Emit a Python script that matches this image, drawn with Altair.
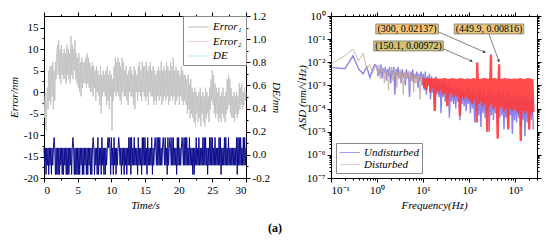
import numpy as np
import pandas as pd
import altair as alt

# ---------------- left panel data ----------------
error1 = [
    -1, -6, 0, -9, -3, 1, -4, 5, -2, 6,
    -3, 6, -1, 7, -4, 5, -2, 7, 3, 9,
    11, 4, 12, 3, 10, 2, 11, 4, 9, 3,
    10, 3, 9, 2, 11, 4, 10, 3, 9, 2,
    13, 4, 11, 3, 10, 5, 12, 3, 9, 2,
    8, 1, 9, 0, 7, -1, 8, 1, 7, 2,
    7, 2, 8, 1, 9, 2, 8, 1, 7, 0,
    6, 0, 7, -1, 6, 1, 5, -2, 6, 0,
    5, -1, 4, -3, 6, -5, 4, -1, 5, 0,
    4, -1, 5, -3, 6, -2, 4, -4, 5, -1,
    4, -9, 3, -2, 6, 0, 8, -1, 7, 0,
    8, -1, 7, -2, 6, -3, 8, 0, 7, -1,
    5, -1, 6, -2, 4, -3, 5, 0, 6, -1,
    5, -1, 4, -3, 6, -4, 5, 0, 4, -2,
    6, 0, 7, -1, 5, -2, 7, 0, 6, -1,
    6, -2, 7, -1, 5, -3, 6, 0, 7, -1,
    5, -1, 6, -3, 5, -2, 4, -3, 5, -1,
    6, -2, 5, -1, 7, -3, 5, -2, 6, -1,
    5, -2, 7, -1, 6, -3, 5, -2, 7, -1,
    6, -2, 8, -1, 5, -3, 6, -2, 5, -1,
    5, -3, 4, -1, 6, -2, 5, -3, 4, -2,
    4, -3, 3, -5, 4, -4, 2, -6, 3, -5,
    1, -6, 0, -7, 1, -8, 0, -5, -1, -7,
    0, -6, 1, -8, -1, -5, 0, -7, -1, -8,
    1, -6, 0, -5, -1, -7, 1, -4, 3, -2,
    5, -3, 4, -5, 2, -6, 1, -5, 0, -7,
    1, -6, -1, -7, 0, -5, 1, -6, -1, -7,
    0, -5, 3, -4, 4, -3, 3, -5, 1, -6,
    -1, -6, 0, -7, -1, -5, 0, -6, -1, -5,
    2, -4, 1, -3, 2, -4, 0, -3, 1, -2,
    0,
]

# DE (nm) on the same 0.1 s grid, one letter per sample
de_levels = {"h": 0.06, "l": -0.09, "U": 0.15, "D": -0.17}
de_code = (
    "hlhDhlhDhl" "hDhlhUhDhD" "hDhDhlhDhD" "hlhDhDhDhl" "hDhUhDhDhD"
    "hDhDhlhDhD" "hlhDhDhlhD" "hDhUhDhlhD" "UDhlhDUlhD" "hDhlhUhUhD"
    "UlhDUlhDhl" "hUhlhDhlhD" "hlhDhlUlUD" "UlhlUlhlhD" "UlhlhDUlUl"
    "UlhDUlhlhl" "UDhlhUhlUl" "UlUlhlhUhl" "UlhDUlhUhl" "UlUlhlhDUl"
    "UlhlhUhlUl" "UlUlhlUlhl" "hDhDhlUlhl" "UlhlhlUlUl" "UlhDhlUlUl"
    "UlhlUlhlhl" "UlUDhlhlUl" "UlhlUlhlhl" "hlhlhlUDUl" "UlUlhlUlUl"
    "h"
)

legend_left = ["Error\u2081", "Error\u2082", "DE"]

# ---------------- right panel data ----------------
low_freqs = [0.1, 0.2, 0.3, 0.4, 0.5, 0.6, 0.7, 0.8, 0.9]

# log10 ASD values (nm/sqrt(Hz))
und_low = [-2.22, -2.28, -1.72, -2.30, -2.50, -2.20, -2.66, -2.30, -2.10]
und_main = [
    -2.2, -2.6, -2.3, -2.5, -2.1, -2.7, -2.3, -2.4, -2.2, -2.8,
    -2.3, -2.6, -2.2, -2.9, -2.4, -2.5, -2.2, -3.4, -2.3, -2.6,
    -2.2, -2.7, -2.4, -2.9, -2.3, -2.6, -2.5, -3.0, -2.3, -2.7,
    -2.4, -3.5, -2.4, -2.8, -2.3, -2.9, -2.5, -2.7, -2.4, -3.1,
    -2.5, -2.8, -2.4, -3.0,
    -2.5, -3.2, -2.4, -3.4, -2.6, -3.0, -2.5, -3.6, -2.6, -3.3,
    -2.7, -3.9, -2.6, -3.4, -2.8, -3.5, -2.7, -4.2, -2.9, -3.5,
    -2.8, -3.7, -3.0, -3.6, -2.9, -4.4, -3.0, -3.7, -3.1, -3.8,
    -3.0, -4.0, -3.1, -3.7, -3.0, -4.5, -3.2, -3.8, -3.1, -3.9,
    -3.2, -4.1, -3.1, -3.8,
    -3.1, -4.2, -3.2, -4.0, -3.0, -4.6, -3.3, -4.1, -3.2, -4.3,
    -3.1, -4.8, -3.3, -4.2, -3.2, -4.4, -3.4, -4.1, -3.2, -5.0,
    -3.3, -4.3, -3.2, -4.5, -3.4, -4.2, -3.3, -4.7, -3.2, -4.4,
    -3.4, -4.3, -3.3, -4.9, -3.5, -4.4, -3.3, -4.6, -3.4, -4.3,
    -3.5, -5.1, -3.4, -4.5,
    -3.4, -4.6, -3.5, -4.4, -3.3, -4.8, -3.5, -4.5, -3.4, -5.2,
    -3.5, -4.6, -3.4, -4.7, -3.6, -4.5, -3.5, -4.9,
]
dist_low = [-2.08, -1.72, -1.44, -1.94, -1.60, -2.30, -2.10, -2.50, -2.20]
dist_main = [
    -2.3, -2.5, -2.1, -2.7, -2.2, -2.4, -2.3, -2.9, -2.2, -2.6,
    -2.4, -3.2, -2.3, -2.5, -2.2, -2.8, -2.4, -2.6, -2.3, -3.1,
    -2.4, -2.7, -2.3, -2.9, -2.5, -3.4, -2.4, -2.8, -2.5, -2.7,
    -2.4, -3.0, -2.5, -2.8, -2.6, -3.3, -2.5, -2.9, -2.6, -2.8,
    -2.5, -3.6, -2.6, -2.9,
    -2.7, -3.1, -2.72, -3.2, -2.68, -3.0, -2.7, -3.3, -2.72, -3.1,
    -2.7, -4.1, -2.68, -3.2, -2.7, -3.3, -2.72, -3.2, -2.7, -3.4,
    -2.68, -3.3, -2.7, -3.9, -2.72, -3.4, -2.7, -3.3, -2.68, -3.5,
    -2.7, -3.4, -2.72, -3.5, -2.7, -4.3, -2.68, -3.5, -2.7, -3.6,
    -2.72, -3.5, -2.7, -3.6,
    -2.7, -3.7, -2.72, -3.8, -2.68, -3.6, -2.7, -4.6, -2.7, -3.8,
    -2.72, -3.7, -2.7, -3.9, -2.68, -3.8, -2.7, -5.0, -2.7, -3.9,
    -2.72, -3.8, -2.7, -4.0, -2.68, -3.9, -2.7, -5.3, -2.7, -4.0,
    -2.72, -3.9, -2.7, -4.1, -2.68, -4.0, -2.7, -4.9, -2.7, -4.0,
    -2.72, -4.1, -2.7, -4.0,
    -2.7, -4.1, -2.72, -4.2, -2.68, -5.4, -2.7, -4.1, -2.72, -4.2,
    -2.7, -4.1, -2.68, -4.9, -2.7, -4.2, -2.72, -4.15,
]
peak_freqs = [300, 449.9, 150.1]
peak_vals = [0.02137, 0.00816, 0.00972]
peak_labels = ["(300, 0.02137)", "(449.9, 0.00816)", "(150.1, 0.00972)"]
legend_right = ["Undisturbed", "Disturbed"]

# annotation layout (data coordinates)
box_f1 = [0.94, 47.6, 0.85]
box_f2 = [21.5, 1549, 27.6]
box_v1 = [0.452, 0.452, 0.0836]
box_v2 = [0.1676, 0.1676, 0.031]
box_fill = ["#f2c57b", "#e9c67e", "#cfc37a"]
tail_f = [19.5, 271, 27.5]
tail_v = [0.2255, 0.1676, 0.038]
head_f = [212, 440, 111]
head_v = [0.0281, 0.0118, 0.0115]
head_angle = [114, 168, 114]

# ---------------- build tables ----------------
assert len(error1) == 301 and len(de_code) == 301
t = np.round(np.arange(301) * 0.1, 1)
err_df = pd.DataFrame({"t": t, "err": error1, "series": legend_left[0]})
de_df = pd.DataFrame({"t": t, "de": [de_levels[c] for c in de_code]})

assert len(und_main) == len(dist_main)
main_f = np.geomspace(1, 2500, len(und_main))
freqs = list(low_freqs) + list(main_f)
und_df = pd.DataFrame({"f": freqs, "v": 10 ** np.array(und_low + und_main), "series": "Undisturbed"})
dist_df = pd.concat([
    pd.DataFrame({"f": freqs, "v": 10 ** np.array(dist_low + dist_main)}),
    pd.DataFrame({"f": peak_freqs, "v": peak_vals}),
]).sort_values("f").reset_index(drop=True)
dist_df["series"] = "Disturbed"
spec_df = pd.concat([und_df, dist_df]).reset_index(drop=True)
spec_df["order"] = np.arange(len(spec_df))

ann_df = pd.DataFrame({
    "label": peak_labels, "f1": box_f1, "f2": box_f2, "v1": box_v1, "v2": box_v2,
    "fill": box_fill, "tf": tail_f, "tv": tail_v, "hf": head_f, "hv": head_v, "ang": head_angle,
})
ann_df["cf"] = np.sqrt(ann_df["f1"] * ann_df["f2"])
ann_df["cv"] = np.sqrt(ann_df["v1"] * ann_df["v2"])

# ---------------- styles ----------------
FONT = "Liberation Serif"
LEGEND_LINE = "M-1,0H2.4"
TS_LIN5 = {"condition": {"test": "abs(datum.value % 5) < 0.001", "value": 4}, "value": 2}
TS_DE = {"condition": {"test": "abs(datum.value*5 - round(datum.value*5)) < 0.001", "value": 4}, "value": 2}
TS_LOG = {"condition": {"test": "abs(log(datum.value)/LN10 - round(log(datum.value)/LN10)) < 0.001", "value": 4}, "value": 2}

x_vals = [round(v * 2.5, 1) for v in range(13)]
yl_vals = [round(-20 + 2.5 * i, 1) for i in range(15)]
de_vals = [round(-0.2 + 0.1 * i, 1) for i in range(15)]


def log_vals(lo, hi):
    out = []
    for e in range(lo, hi):
        for m in range(1, 10):
            out.append(float(f"{m}e{e}"))
    out.append(float(f"1e{hi}"))
    return out


fx_vals = log_vals(-1, 3) + [2000.0, 3000.0]
fy_vals = log_vals(-7, 0)

sup = {"-": "\u207b", "0": "\u2070", "1": "\u00b9", "2": "\u00b2", "3": "\u00b3",
       "4": "\u2074", "5": "\u2075", "6": "\u2076", "7": "\u2077"}


def decade_expr(exps):
    expr = "''"
    for e in exps:
        lab = "10" + "".join(sup[c] for c in str(e))
        expr = f"abs(log(datum.value)/LN10 - ({e})) < 0.001 ? '{lab}' : ({expr})"
    return expr


x_scale_l = alt.Scale(domain=[0, 30], nice=False, zero=False)
y_scale_l = alt.Scale(domain=[-20, 17.7], nice=False, zero=False)
de_scale = alt.Scale(domain=[-0.2, 1.2], nice=False, zero=False)
f_scale = alt.Scale(type="log", domain=[0.1, 3000], nice=False)
v_scale = alt.Scale(type="log", domain=[1e-7, 1], nice=False)

# ---------------- left panel ----------------
err_line = alt.Chart(err_df).mark_line(strokeWidth=1).encode(
    x=alt.X("t:Q", scale=x_scale_l, axis=alt.Axis(
        title="Time/s", values=x_vals, tickSize=TS_LIN5,
        labelExpr="abs(datum.value % 5) < 0.001 ? toString(datum.value) : ''")),
    y=alt.Y("err:Q", scale=y_scale_l, axis=alt.Axis(
        title="Error/nm", values=yl_vals, tickSize=TS_LIN5,
        minExtent=21, maxExtent=21, titlePadding=3.5,
        labelExpr="abs(datum.value % 5) < 0.001 ? toString(datum.value) : ''")),
    color=alt.Color("series:N", scale=alt.Scale(domain=legend_left,
                                                range=["#c4c4c4", "#f6d2dc", "#c6ecec"]),
                    legend=alt.Legend(title=None, orient="top-right", offset=0, padding=4,
                                      strokeColor="#8a8a8a", fillColor="white",
                                      symbolType=LEGEND_LINE, symbolSize=144, symbolStrokeWidth=1.2,
                                      labelFont=FONT, labelFontStyle="italic", labelFontSize=11,
                                      rowPadding=2.5, labelOffset=12)),
)

de_line = alt.Chart(de_df).mark_line(strokeWidth=1, color="#0c0c8e").encode(
    x=alt.X("t:Q", scale=x_scale_l, axis=alt.Axis(
        orient="top", title=None, labels=False, values=x_vals, tickSize=TS_LIN5)),
    y=alt.Y("de:Q", scale=de_scale, axis=alt.Axis(
        orient="right", title="DE/nm", values=de_vals, tickSize=TS_DE,
        minExtent=23, maxExtent=23, titlePadding=1.5,
        labelExpr="abs(datum.value*5 - round(datum.value*5)) < 0.001 ? replace(format(datum.value, '.1f'), '\u2212', '-') : ''")),
)

left = alt.layer(err_line, de_line).resolve_scale(y="independent").resolve_axis(
    x="independent", y="independent").properties(width=202, height=162)

# ---------------- right panel ----------------
und_line = alt.Chart(spec_df).transform_filter(alt.datum.series == "Undisturbed").mark_line(
    strokeWidth=1.4, opacity=0.7).encode(
    x=alt.X("f:Q", scale=f_scale, axis=alt.Axis(
        title="Frequency(Hz)", values=fx_vals, tickSize=TS_LOG,
        labelExpr=decade_expr([-1, 0, 1, 2, 3]))),
    y=alt.Y("v:Q", scale=v_scale, axis=alt.Axis(
        title="ASD (nm/\u221aHz)", values=fy_vals, tickSize=TS_LOG,
        minExtent=21, maxExtent=21, titlePadding=2.5,
        labelExpr=decade_expr([-7, -6, -5, -4, -3, -2, -1, 0]))),
    order="order:Q",
    color=alt.Color("series:N", scale=alt.Scale(domain=legend_right, range=["#5a4ee0", "#c9a898"]),
                    legend=alt.Legend(title=None, orient="bottom-left", offset=5, padding=3,
                                      strokeColor="#8a8a8a", fillColor="white",
                                      symbolType=LEGEND_LINE, symbolSize=144, symbolStrokeWidth=1,
                                      symbolOpacity=0.55,
                                      labelFont=FONT, labelFontStyle="italic", labelFontSize=11,
                                      rowPadding=0, labelOffset=12)),
)

dist_low_line = alt.Chart(spec_df).transform_filter(
    (alt.datum.series == "Disturbed") & (alt.datum.f <= 10.1)).mark_line(
    strokeWidth=0.9, opacity=0.9).encode(
    x=alt.X("f:Q", scale=f_scale, axis=None),
    y=alt.Y("v:Q", scale=v_scale, axis=None),
    order="order:Q",
    color=alt.Color("series:N", scale=alt.Scale(domain=legend_right, range=["#5a4ee0", "#c9a898"]),
                    legend=None),
)

dist_high_line = alt.Chart(spec_df).transform_filter(
    (alt.datum.series == "Disturbed") & (alt.datum.f >= 10.0)).mark_line(
    strokeWidth=2.4, opacity=0.9, color="#ff3a3a", strokeJoin="bevel").encode(
    x=alt.X("f:Q", scale=f_scale, axis=alt.Axis(
        orient="top", title=None, labels=False, values=fx_vals, tickSize=TS_LOG)),
    y=alt.Y("v:Q", scale=v_scale, axis=alt.Axis(
        orient="right", title=None, labels=False, values=fy_vals, tickSize=TS_LOG)),
    order="order:Q",
)

ann_base = alt.Chart(ann_df)
boxes = ann_base.mark_rect(stroke="#6a6a6a", strokeWidth=0.7).encode(
    x=alt.X("f1:Q", scale=f_scale, axis=None), x2="f2:Q",
    y=alt.Y("v1:Q", scale=v_scale, axis=None), y2="v2:Q",
    fill=alt.Fill("fill:N", scale=None),
)
labels = ann_base.mark_text(font=FONT, fontSize=10, color="black").encode(
    x=alt.X("cf:Q", scale=f_scale, axis=None),
    y=alt.Y("cv:Q", scale=v_scale, axis=None),
    text="label:N",
)
arrows = ann_base.mark_rule(color="#4a4a4a", strokeWidth=0.7).encode(
    x=alt.X("tf:Q", scale=f_scale, axis=None), x2="hf:Q",
    y=alt.Y("tv:Q", scale=v_scale, axis=None), y2="hv:Q",
)
heads = ann_base.mark_point(shape="triangle", filled=True, size=10, color="#3a3a3a", opacity=1).encode(
    x=alt.X("hf:Q", scale=f_scale, axis=None),
    y=alt.Y("hv:Q", scale=v_scale, axis=None),
    angle=alt.Angle("ang:Q", scale=None),
)

right = alt.layer(und_line, dist_low_line, dist_high_line, arrows, heads, boxes, labels).resolve_axis(
    x="independent", y="independent").properties(width=206, height=162)

chart = alt.hconcat(left, right, spacing=14).resolve_scale(color="independent").properties(
    title=alt.TitleParams("(a)", orient="bottom", anchor="middle", font=FONT, fontSize=12,
                          fontWeight="bold", offset=12),
    padding={"left": 0, "top": 1, "right": 0, "bottom": 5},
    background="white",
).configure_view(stroke="black", strokeWidth=1).configure_axis(
    grid=False, domainColor="black", tickColor="black", domainWidth=1, tickWidth=1,
    labelFont=FONT, labelFontSize=11, labelColor="black", labelPadding=2,
    titleFont=FONT, titleFontSize=11, titleFontStyle="italic", titleFontWeight="normal",
    titleColor="black", titlePadding=4,
)

chart.save("out.html", embed_options={"renderer": "svg", "actions": False})
